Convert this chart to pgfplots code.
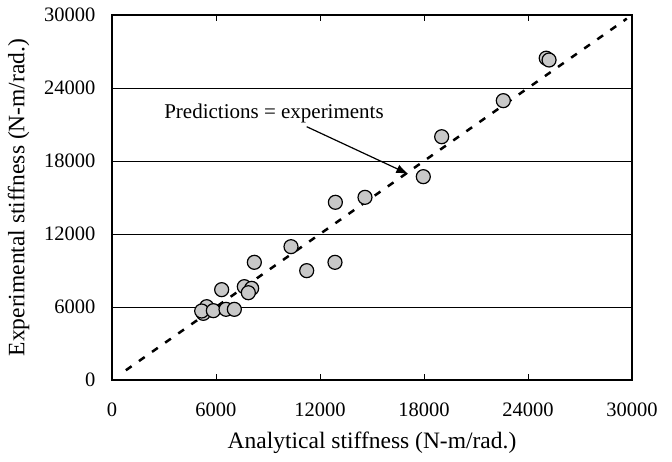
\documentclass[border=0pt]{standalone}
\usepackage{fontspec}
\setmainfont{Liberation Serif}
\usepackage{pgfplots}
\pgfplotsset{compat=1.18}
\usetikzlibrary{arrows.meta}
\definecolor{markgray}{RGB}{200,200,200}
\begin{document}
\begin{tikzpicture}
\begin{axis}[
  scale only axis,
  width=520pt, height=365pt,
  xmin=0, xmax=30000, ymin=0, ymax=30000,
  xtick={0,6000,...,30000}, ytick={0,6000,...,30000},
  scaled ticks=false,
  /pgf/number format/assume math mode=true,
  /pgf/number format/1000 sep={},
  ticklabel style={font=\fontsize{20.5}{24}\selectfont},
  label style={font=\fontsize{23.5}{28}\selectfont},
  xlabel={Analytical stiffness (N-m/rad.)},
  ylabel={Experimental stiffness (N-m/rad.)},
  axis line style={line width=2pt},
  ymajorgrids, major grid style={black, line width=0.8pt},
  tick align=inside, major tick length=6pt,
  tick style={black, line width=0.8pt},
  xticklabel style={yshift=-19pt},
  yticklabel style={xshift=-13pt},
  xlabel style={yshift=-9pt},
  ylabel style={yshift=8pt},
  clip=false,
]
\addplot[black, line width=2.5pt, dash pattern=on 7pt off 9pt] coordinates {(800,800) (29700,29700)};
\addplot[only marks, mark=*, mark size=7pt, mark options={fill=markgray, draw=black, line width=1.2pt}] coordinates {
(25050,26450) (25215,26301) (22575,22959) (19020,19995) (17960,16712)
(14596,15014) (12887,14605) (10327,10959) (8212,9672) (11233,8986)
(12865,9672) (6327,7425) (7633,7671) (8058,7534) (7865,7173)
(5462,6025) (5269,5479) (5173,5671) (5846,5698) (6577,5808) (7058,5808)
};
\node[font=\fontsize{21}{25}\selectfont] at (axis cs:9346,21900) {Predictions = experiments};
\draw[line width=1.2pt, -{Latex[length=12pt,width=9pt]}] (axis cs:11233,20819) -- (axis cs:17094,16932);
\end{axis}
\path[use as bounding box] (-112pt,-82pt) rectangle (560pt,380pt);
\end{tikzpicture}
\end{document}
